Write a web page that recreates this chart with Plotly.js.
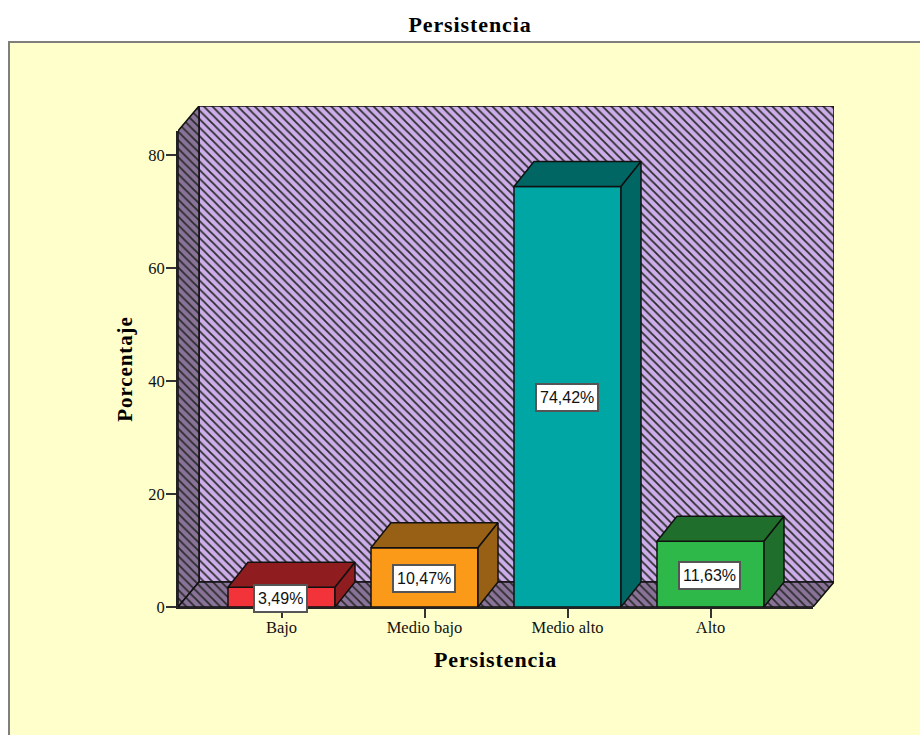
<!DOCTYPE html>
<html><head><meta charset="utf-8">
<script src="https://cdn.plot.ly/plotly-3.0.1.min.js"></script>
<style>html,body{margin:0;padding:0;background:#fff}#c{width:920px;height:735px}
.gtitle,.x2title,.xtitle{letter-spacing:.9px}.y2title,.ytitle{letter-spacing:.9px}</style>
</head><body><div id="c"></div>
<script>
const categories = ['Bajo','Medio bajo','Medio alto','Alto'];
const values = [3.49,10.47,74.42,11.63];
const yTicks = [0,20,40,60,80];
const frontColors = ['#f2333a','#fb9a19','#00a6a4','#2eb84a'];
const shadeColors = ['#8f1d20','#976014','#006664','#1f6e2c'];
const chartTitle = 'Persistencia';
const xTitle = 'Persistencia';
const yTitle = 'Porcentaje';

const W=920,H=735,L=178,R=813,T=131,B=607,DX=21,DY=25;
const pxPerCat=143, pxPerUnit=5.65, firstCat=281.5;
const xRange=[(L-firstCat)/pxPerCat,(R-firstCat)/pxPerCat];
const yRange=[0,(B-T)/pxPerUnit];
const dx=DX/pxPerCat, dy=DY/pxPerUnit, barW=107/pxPerCat, barDx=20/pxPerCat;
const serif='"Liberation Serif","Times New Roman",serif';
const [x0,x1]=xRange,[y0,y1]=yRange;

function poly(xs,ys,fill,pattern,front){
  const t={type:'scatter',mode:'lines',x:xs.concat(xs[0]),y:ys.concat(ys[0]),fill:'toself',fillcolor:fill,
    line:{color:'#111',width:1.5,simplify:false},hoverinfo:'skip',showlegend:false,cliponaxis:false};
  if(pattern) t.fillpattern=pattern;
  if(front){t.xaxis='x2';t.yaxis='y2';}
  return t;
}
const hatch=(bg)=>({shape:'\\',bgcolor:bg,fgcolor:'#2b2b2b',size:6,solidity:0.3,fillmode:'replace'});
const traces=[
  poly([x0+dx,x1+dx,x1+dx,x0+dx],[y0+dy,y0+dy,y1+dy,y1+dy],'#cdaeea',hatch('#cdaeea')),
  poly([x0,x0+dx,x0+dx,x0],[y0,y0+dy,y1+dy,y1],'#8a7399',hatch('#8a7399')),
  poly([x0,x1,x1+dx,x0+dx],[y0,y0,y0+dy,y0+dy],'#8a7399',hatch('#8a7399')),
  {type:'bar',x:categories.map((c,i)=>i),y:values,width:barW,xaxis:'x2',yaxis:'y2',
   marker:{color:frontColors,line:{color:'#111',width:1.5}},hoverinfo:'skip',showlegend:false,cliponaxis:false}
];
values.forEach((v,i)=>{
  const a=i-barW/2,b=i+barW/2;
  traces.push(poly([a,b,b+barDx,a+barDx],[v,v,v+dy,v+dy],shadeColors[i],null,true));
  traces.push(poly([b,b+barDx,b+barDx,b],[0,dy,v+dy,v],shadeColors[i],null,true));
});
const annotations=values.map((v,i)=>({x:i,y:v/2,xref:'x2',yref:'y2',showarrow:false,yshift:-1,xshift:-1,
  text:v.toFixed(2).replace('.',',')+'%',font:{family:'"Liberation Sans",Arial,sans-serif',size:16,color:'#111'},
  bgcolor:'#fff',bordercolor:'#555',borderwidth:2,borderpad:3,height:19}));
const Wp=R-L+DX, Hp=B-T+DY;
const panel={type:'rect',xref:'paper',yref:'paper',layer:'below',
  x0:(9-L)/Wp,x1:(W+5-L)/Wp,y0:(B-H-5)/Hp,y1:(B-42)/Hp,
  fillcolor:'#ffffcc',line:{color:'#7f7f7f',width:2}};
const axisCommon={showgrid:false,zeroline:false,showline:true,linecolor:'#222',linewidth:2,ticks:'outside',tickwidth:2,tickcolor:'#333',
  tickfont:{family:serif,size:16.5,color:'#111'}};
const layout={
  width:W,height:H,paper_bgcolor:'#fff',plot_bgcolor:'rgba(0,0,0,0)',showlegend:false,
  margin:{l:L,r:W-R-DX,t:T-DY,b:H-B,pad:0},
  title:{text:chartTitle,font:{family:serif,size:22,color:'#000',weight:'bold'},x:470/W,xanchor:'center',y:1-24/H,yanchor:'middle'},
  xaxis:{range:[x0,x1+dx],domain:[0,1],visible:false},
  yaxis:{range:[y0,y1+dy],domain:[0,1],visible:false},
  xaxis2:Object.assign({},axisCommon,{range:xRange,domain:[0,(R-L)/Wp],anchor:'y2',tickmode:'array',
    tickvals:categories.map((c,i)=>i),ticktext:categories,ticklen:9,ticklabelstandoff:-5,
    title:{text:xTitle,standoff:16,font:{family:serif,size:22,color:'#000',weight:'bold'}}}),
  yaxis2:Object.assign({},axisCommon,{range:yRange,domain:[0,(B-T)/Hp],anchor:'x2',tickmode:'array',
    tickvals:yTicks,ticktext:yTicks.map(String),ticklen:10,ticklabelstandoff:-2,
    title:{text:yTitle,standoff:10,font:{family:serif,size:21,color:'#000',weight:'bold'}}}),
  annotations:annotations,shapes:[panel]
};
Plotly.newPlot('c',traces,layout,{displayModeBar:false,staticPlot:true});
</script></body></html>
